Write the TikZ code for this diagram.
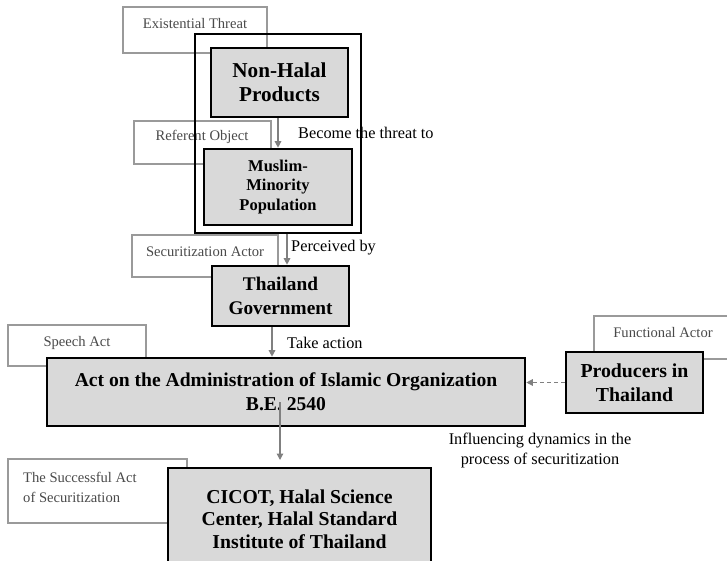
\documentclass[tikz,border=0pt]{standalone}
\usepackage{fontspec}
\setmainfont{Liberation Serif}
\usetikzlibrary{arrows.meta,calc}
\definecolor{boxfill}{HTML}{D9D9D9}
\definecolor{lblline}{HTML}{9A9A9A}
\definecolor{lbltxt}{HTML}{4A4A4A}
\definecolor{arrcol}{HTML}{808080}
\begin{document}
\begin{tikzpicture}[x=1pt,y=-1pt,
  lblbox/.style={draw=lblline,line width=2pt,fill=white,inner sep=0pt},
  lbltext/.style={text=lbltxt,font=\fontsize{14.6}{20}\selectfont,inner sep=0pt},
  mainbox/.style={draw=black,line width=2.6pt,fill=boxfill,inner sep=0pt,align=center},
  outerbox/.style={draw=black,line width=1.1pt,inner sep=0pt},
  arr/.style={draw=arrcol,line width=1.3pt,-{Triangle[length=6.5pt,width=6.5pt]}},
  darr/.style={draw=arrcol,line width=1.3pt,dash pattern=on 4pt off 3pt,-{Triangle[length=6.5pt,width=6.5pt]}},
  cnlabel/.style={font=\fontsize{16.3}{20}\selectfont,inner sep=0pt,align=center}
]
\useasboundingbox (0,0) rectangle (727,561);
\clip (0,0) rectangle (727,561);
\fill[white] (0,0) rectangle (727,561);

% label boxes (behind)
\node[lblbox,minimum width=144,minimum height=46] (exbox) at (195,30) {};
\node[lbltext] (extxt) at (195,24) {Existential Threat};
\node[lblbox,minimum width=137,minimum height=43] (refbox) at (202.5,142.5) {};
\node[lbltext] (reftxt) at (202,137) {Referent Object};
\node[lblbox,minimum width=146,minimum height=42] (secbox) at (205,256) {};
\node[lbltext] (sectxt) at (205,252) {Securitization Actor};
\node[lblbox,minimum width=138,minimum height=41] (spbox) at (77,345.5) {};
\node[lbltext] (sptxt) at (77,343) {Speech Act};
\node[lblbox,minimum width=138,minimum height=43] (funbox) at (663,337.5) {};
\node[lbltext] (funtxt) at (663,333) {Functional Actor};
\node[lblbox,minimum width=179,minimum height=64] (sucbox) at (97.5,491) {};
\node[lbltext,anchor=west,align=left] (suctxt) at (23,487) {The Successful Act\\of Securitization};

% main boxes
\node[mainbox,minimum width=137,minimum height=69,font=\bfseries\fontsize{21.2}{24.5}\selectfont] (nonhalal) at (279.5,82.5) {Non-Halal\\Products};
\node[mainbox,minimum width=148,minimum height=76,font=\bfseries\fontsize{16.5}{19.5}\selectfont] (muslim) at (278,187) {Muslim-\\Minority\\Population};
\node[mainbox,minimum width=137,minimum height=60,font=\bfseries\fontsize{19.3}{24}\selectfont] (thai) at (280.5,296) {Thailand\\Government};
\node[mainbox,minimum width=478,minimum height=68,font=\bfseries\fontsize{19.6}{24}\selectfont] (act) at (286,392) {Act on the Administration of Islamic Organization\\B.E. 2540};
\node[mainbox,minimum width=137,minimum height=61,font=\bfseries\fontsize{19.8}{24}\selectfont] (prod) at (634.5,382.5) {Producers in\\Thailand};
\node[mainbox,minimum width=263,minimum height=102,font=\bfseries\fontsize{19.7}{22.5}\selectfont] (cicot) at (299.5,519) {CICOT, Halal Science\\Center, Halal Standard\\Institute of Thailand};

% outer frame
\node[outerbox,minimum width=166,minimum height=199] (outer) at (278,133.5) {};

% connectors
\coordinate (p1) at (287,0);
\coordinate (p2) at (272,0);
\coordinate (p3s) at (280,402);
\coordinate (p3e) at (280,460);
\draw[arr] (muslim.north |- nonhalal.south) -- (muslim.north);
\draw[arr] (p1 |- outer.south) -- (p1 |- thai.north);
\draw[arr] (p2 |- thai.south) -- (p2 |- act.north);
\draw[arr] (p3s) -- (p3e);
\draw[darr] (prod.west) -- (act.east |- prod.west);

% connector labels
\node[cnlabel,anchor=west] (l1) at (298,133) {Become the threat to};
\node[cnlabel,anchor=west] (l2) at (291,248) {Perceived by};
\node[cnlabel,anchor=west] (l3) at (287,343) {Take action};
\node[cnlabel] (l4) at (540,450) {Influencing dynamics in the\\process of securitization};
\end{tikzpicture}
\end{document}
